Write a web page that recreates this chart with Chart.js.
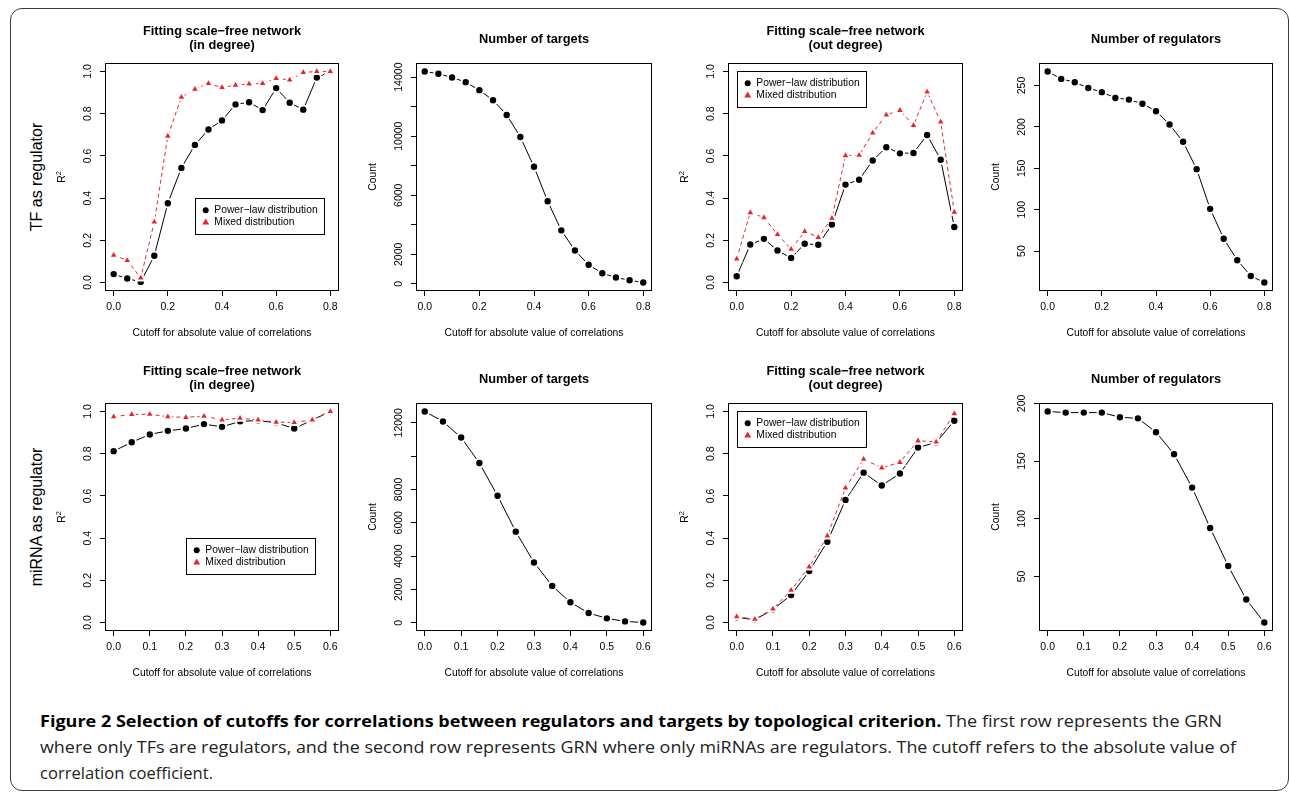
<!DOCTYPE html>
<html><head><meta charset="utf-8">
<script src="https://cdn.jsdelivr.net/npm/chart.js"></script>
<style>
html,body{margin:0;padding:0;background:#fff;width:1290px;height:792px;overflow:hidden;position:relative;font-family:"Liberation Sans",Arial,sans-serif;}
#frame{position:absolute;left:10px;top:8px;width:1279px;height:783px;border:1.5px solid #3a3a3a;border-radius:12px;box-sizing:border-box;}
canvas.p{position:absolute;}
.rowlab{position:absolute;font-family:"Liberation Sans",Arial,sans-serif;font-size:16px;color:#000;transform:translate(-50%,-50%) rotate(-90deg);white-space:nowrap;}
.cap{position:absolute;left:40px;font-family:"Open Sans",sans-serif;font-size:16px;line-height:26px;white-space:nowrap;transform-origin:0 50%;color:#222;}
.cap b{color:#000;font-weight:700;}
</style></head>
<body>
<div id="frame"></div>
<div class="rowlab" style="left:37px;top:177px">TF as regulator</div>
<div class="rowlab" style="left:37px;top:517px">miRNA as regulator</div>
<div class="cap" id="cap1" style="top:708px"><b>Figure 2 Selection of cutoffs for correlations between regulators and targets by topological criterion.</b> The first row represents the GRN</div>
<div class="cap" id="cap2" style="top:734px">where only TFs are regulators, and the second row represents GRN where only miRNAs are regulators. The cutoff refers to the absolute value of</div>
<div class="cap" id="cap3" style="top:760px">correlation coefficient.</div>
<script>
// ---------- data ----------
const cutoffsTF = [0, 0.05, 0.10, 0.15, 0.20, 0.25, 0.30, 0.35, 0.40, 0.45, 0.50, 0.55, 0.60, 0.65, 0.70, 0.75, 0.80];
const cutoffsMiRNA = [0, 0.05, 0.10, 0.15, 0.20, 0.25, 0.30, 0.35, 0.40, 0.45, 0.50, 0.55, 0.60];

const tfInPower  = [0.040, 0.019, 0.003, 0.127, 0.376, 0.543, 0.652, 0.725, 0.768, 0.844, 0.854, 0.817, 0.921, 0.852, 0.819, 0.971, 1.000];
const tfInMixed  = [0.130, 0.105, 0.022, 0.287, 0.694, 0.878, 0.916, 0.943, 0.924, 0.935, 0.941, 0.943, 0.967, 0.960, 0.995, 1.000, 1.000];
const tfTargets  = [14385, 14227, 13978, 13660, 13117, 12437, 11440, 9945, 7929, 5596, 3625, 2265, 1291, 725, 430, 249, 90];
const tfOutPower = [0.030, 0.180, 0.207, 0.152, 0.116, 0.184, 0.179, 0.275, 0.464, 0.487, 0.578, 0.641, 0.612, 0.614, 0.699, 0.582, 0.263];
const tfOutMixed = [0.112, 0.331, 0.308, 0.228, 0.158, 0.242, 0.214, 0.305, 0.601, 0.603, 0.709, 0.794, 0.816, 0.744, 0.903, 0.761, 0.334];
const tfRegulators = [267, 258, 254, 247, 242, 235, 233, 228, 219, 203, 182, 149, 101, 65, 39, 20, 12];

const miInPower  = [0.812, 0.854, 0.891, 0.908, 0.919, 0.940, 0.927, 0.953, 0.957, 0.946, 0.919, 0.959, 1.000];
const miInMixed  = [0.975, 0.986, 0.987, 0.975, 0.972, 0.978, 0.960, 0.968, 0.960, 0.949, 0.948, 0.960, 1.000];
const miTargets  = [12683, 12080, 11116, 9588, 7618, 5467, 3618, 2211, 1226, 583, 261, 80, 10];
const miOutPower = [0.025, 0.013, 0.062, 0.130, 0.244, 0.383, 0.581, 0.710, 0.649, 0.706, 0.829, 0.853, 0.956];
const miOutMixed = [0.028, 0.016, 0.065, 0.153, 0.264, 0.411, 0.638, 0.774, 0.733, 0.759, 0.861, 0.856, 0.989];
const miRegulators = [193, 192, 192, 192, 188, 187, 175, 156, 127, 92, 59, 30, 10];

const xTicksTF = [0, 0.2, 0.4, 0.6, 0.8];
const xTickLabelsTF = ['0.0', '0.2', '0.4', '0.6', '0.8'];
const xTicksMiRNA = [0, 0.1, 0.2, 0.3, 0.4, 0.5, 0.6];
const xTickLabelsMiRNA = ['0.0', '0.1', '0.2', '0.3', '0.4', '0.5', '0.6'];
const r2Ticks = [0, 0.2, 0.4, 0.6, 0.8, 1.0];
const r2TickLabels = ['0.0', '0.2', '0.4', '0.6', '0.8', '1.0'];
const tfTargetTicks = [0, 2000, 4000, 6000, 8000, 10000, 12000, 14000];
const tfTargetTickLabels = ['0', '2000', '', '6000', '', '10000', '', '14000'];
const tfRegTicks = [50, 100, 150, 200, 250];
const tfRegTickLabels = ['50', '100', '150', '200', '250'];
const miTargetTicks = [0, 2000, 4000, 6000, 8000, 10000, 12000];
const miTargetTickLabels = ['0', '2000', '4000', '6000', '8000', '', '12000'];
const miRegTicks = [50, 100, 150, 200];
const miRegTickLabels = ['50', '100', '150', '200'];

const titleIn = ['Fitting scale\u2212free network', '(in degree)'];
const titleOut = ['Fitting scale\u2212free network', '(out degree)'];
const titleTargets = ['Number of targets'];
const titleRegs = ['Number of regulators'];
const xAxisTitle = 'Cutoff for absolute value of correlations';
const legendLabels = ['Power\u2212law distribution', 'Mixed distribution'];

// ---------- styling ----------
const FONT = '"Liberation Sans", Arial, sans-serif';
const RED = 'rgb(230,38,44)';
const BLACK = '#000';

function ext(lo, hi) { const r = hi - lo; return [lo - 0.04 * r, hi + 0.04 * r]; }

const powerStyle = { color: BLACK, dash: [], shape: 'circle', r: 4.2, order: 1 };
const mixedStyle = { color: RED, dash: [4, 3], shape: 'triangle', r: 5.2, order: 0 };

const rowTop = { cy: 15, ch: 330, T: 63, B: 291 };
const rowBot = { cy: 355, ch: 335, T: 403, B: 631 };
const cols = [
  { cx: 48, cw: 310, L: 105, R: 339 },
  { cx: 358, cw: 312, L: 416, R: 652 },
  { cx: 670, cw: 310, L: 728, R: 963 },
  { cx: 980, cw: 300, L: 1039, R: 1273 }
];

const panels = [
  { row: rowTop, col: cols[0], title: titleIn, ylab: 'R2', xs: cutoffsTF, xt: xTicksTF, xl: xTickLabelsTF,
    yr: ext(0, 1), yt: r2Ticks, yl: r2TickLabels,
    series: [{ v: tfInPower, s: powerStyle }, { v: tfInMixed, s: mixedStyle }], legend: [0.3, 0.4] },
  { row: rowTop, col: cols[1], title: titleTargets, ylab: 'Count', xs: cutoffsTF, xt: xTicksTF, xl: xTickLabelsTF,
    yr: ext(Math.min(...tfTargets), Math.max(...tfTargets)), yt: tfTargetTicks, yl: tfTargetTickLabels,
    series: [{ v: tfTargets, s: powerStyle }] },
  { row: rowTop, col: cols[2], title: titleOut, ylab: 'R2', xs: cutoffsTF, xt: xTicksTF, xl: xTickLabelsTF,
    yr: ext(0, 1), yt: r2Ticks, yl: r2TickLabels,
    series: [{ v: tfOutPower, s: powerStyle }, { v: tfOutMixed, s: mixedStyle }], legend: [0, 1] },
  { row: rowTop, col: cols[3], title: titleRegs, ylab: 'Count', xs: cutoffsTF, xt: xTicksTF, xl: xTickLabelsTF,
    yr: ext(Math.min(...tfRegulators), Math.max(...tfRegulators)), yt: tfRegTicks, yl: tfRegTickLabels,
    series: [{ v: tfRegulators, s: powerStyle }] },
  { row: rowBot, col: cols[0], title: titleIn, ylab: 'R2', xs: cutoffsMiRNA, xt: xTicksMiRNA, xl: xTickLabelsMiRNA,
    yr: ext(0, 1), yt: r2Ticks, yl: r2TickLabels,
    series: [{ v: miInPower, s: powerStyle }, { v: miInMixed, s: mixedStyle }], legend: [0.2, 0.4] },
  { row: rowBot, col: cols[1], title: titleTargets, ylab: 'Count', xs: cutoffsMiRNA, xt: xTicksMiRNA, xl: xTickLabelsMiRNA,
    yr: ext(Math.min(...miTargets), Math.max(...miTargets)), yt: miTargetTicks, yl: miTargetTickLabels,
    series: [{ v: miTargets, s: powerStyle }] },
  { row: rowBot, col: cols[2], title: titleOut, ylab: 'R2', xs: cutoffsMiRNA, xt: xTicksMiRNA, xl: xTickLabelsMiRNA,
    yr: ext(0, 1), yt: r2Ticks, yl: r2TickLabels,
    series: [{ v: miOutPower, s: powerStyle }, { v: miOutMixed, s: mixedStyle }], legend: [0, 1] },
  { row: rowBot, col: cols[3], title: titleRegs, ylab: 'Count', xs: cutoffsMiRNA, xt: xTicksMiRNA, xl: xTickLabelsMiRNA,
    yr: ext(Math.min(...miRegulators), Math.max(...miRegulators)), yt: miRegTicks, yl: miRegTickLabels,
    series: [{ v: miRegulators, s: powerStyle }] }
];

function rPlugin(p) {
  return {
    id: 'rpanel',
    afterDraw(chart) {
      const ctx = chart.ctx, a = chart.chartArea, xs = chart.scales.x, ys = chart.scales.y;
      ctx.save();
      // box
      ctx.strokeStyle = '#000'; ctx.lineWidth = 1;
      ctx.strokeRect(Math.round(a.left) + 0.5, Math.round(a.top) + 0.5, Math.round(a.right - a.left) - 1, Math.round(a.bottom - a.top) - 1);
      ctx.fillStyle = '#000';
      // title
      const cx = (a.left + a.right) / 2;
      ctx.font = 'bold 12.8px ' + FONT; ctx.textAlign = 'center'; ctx.textBaseline = 'middle';
      if (p.title.length === 2) { ctx.fillText(p.title[0], cx, a.top - 32); ctx.fillText(p.title[1], cx, a.top - 18); }
      else ctx.fillText(p.title[0], cx, a.top - 24);
      // x axis title
      ctx.font = '10.3px ' + FONT;
      ctx.fillText(xAxisTitle, cx, a.bottom + 42);
      // y tick labels (rotated, R style)
      ctx.font = '10.5px ' + FONT;
      p.yt.forEach((v, i) => {
        const lab = p.yl[i]; if (!lab) return;
        const py = ys.getPixelForValue(v);
        ctx.save(); ctx.translate(a.left - 17, py); ctx.rotate(-Math.PI / 2);
        ctx.textAlign = 'center'; ctx.textBaseline = 'middle'; ctx.fillText(lab, 0, 0); ctx.restore();
      });
      // y axis title
      const cy = (a.top + a.bottom) / 2;
      ctx.save(); ctx.translate(a.left - 42.5, cy); ctx.rotate(-Math.PI / 2); ctx.textBaseline = 'middle'; ctx.textAlign = 'left';
      if (p.ylab === 'R2') {
        ctx.font = '10.3px ' + FONT; const wR = ctx.measureText('R').width;
        ctx.font = '7.5px ' + FONT; const w2 = ctx.measureText('2').width;
        const s = -(wR + w2) / 2;
        ctx.font = '10.3px ' + FONT; ctx.fillText('R', s, 0);
        ctx.font = '7.5px ' + FONT; ctx.fillText('2', s + wR, -4);
      } else {
        ctx.font = '10.3px ' + FONT; ctx.textAlign = 'center'; ctx.fillText(p.ylab, 0, 0);
      }
      ctx.restore();
      // legend
      if (p.legend) {
        const lx = Math.round(xs.getPixelForValue(p.legend[0])), ly = Math.round(ys.getPixelForValue(p.legend[1]));
        ctx.strokeStyle = '#000'; ctx.lineWidth = 1;
        ctx.strokeRect(lx + 0.5, ly + 0.5, 129, 36);
        ctx.font = '10.3px ' + FONT; ctx.textAlign = 'left'; ctx.textBaseline = 'middle';
        // entry 1 symbol: circle
        ctx.fillStyle = BLACK; ctx.beginPath(); ctx.arc(lx + 10.7, ly + 12.3, 3, 0, Math.PI * 2); ctx.fill();
        ctx.fillText(legendLabels[0], lx + 19.3, ly + 12.3);
        // entry 2 symbol: triangle
        ctx.fillStyle = RED; ctx.beginPath();
        const tx = lx + 10.7, ty = ly + 24.6, r = 4;
        ctx.moveTo(tx, ty - r); ctx.lineTo(tx + r * 0.866, ty + r * 0.5); ctx.lineTo(tx - r * 0.866, ty + r * 0.5); ctx.closePath(); ctx.fill();
        ctx.fillStyle = '#000';
        ctx.fillText(legendLabels[1], lx + 19.3, ly + 24.6);
      }
      ctx.restore();
    }
  };
}

panels.forEach((p) => {
  const { cy, ch, T, B } = p.row; const { cx, cw, L, R } = p.col;
  const cv = document.createElement('canvas');
  cv.className = 'p'; cv.width = cw; cv.height = ch;
  cv.style.left = cx + 'px'; cv.style.top = cy + 'px'; cv.style.width = cw + 'px'; cv.style.height = ch + 'px';
  document.body.appendChild(cv);
  const xr = ext(p.xs[0], p.xs[p.xs.length - 1]);
  new Chart(cv, {
    type: 'line',
    data: {
      datasets: p.series.map(sr => ({
        data: p.xs.map((x, i) => ({ x: x, y: sr.v[i] })),
        borderColor: sr.s.color, backgroundColor: sr.s.color, borderWidth: 1, borderDash: sr.s.dash,
        pointStyle: sr.s.shape, pointRadius: sr.s.r, pointHoverRadius: sr.s.r,
        pointBackgroundColor: sr.s.color, pointBorderColor: '#fff', pointBorderWidth: 2,
        tension: 0, fill: false, order: sr.s.order
      }))
    },
    options: {
      responsive: false, animation: false, devicePixelRatio: 1, events: [],
      layout: { padding: { left: 0, top: T - cy, right: cx + cw - R, bottom: 0 } },
      plugins: { legend: { display: false }, tooltip: { enabled: false }, title: { display: false } },
      scales: {
        x: {
          type: 'linear', min: xr[0], max: xr[1],
          afterBuildTicks: s => { s.ticks = p.xt.map(v => ({ value: v })); },
          afterFit: s => { s.height = cy + ch - B; },
          ticks: { autoSkip: false, maxRotation: 0, minRotation: 0, padding: 5, color: '#000',
                   font: { family: FONT, size: 10.5 }, callback: (v, i) => p.xl[i] },
          grid: { drawOnChartArea: false, drawTicks: true, tickLength: 5, color: '#000', lineWidth: 1 },
          border: { display: false }
        },
        y: {
          type: 'linear', min: p.yr[0], max: p.yr[1],
          afterBuildTicks: s => { s.ticks = p.yt.map(v => ({ value: v })); },
          afterFit: s => { s.width = L - cx; },
          ticks: { display: false },
          grid: { drawOnChartArea: false, drawTicks: true, tickLength: 5, color: '#000', lineWidth: 1 },
          border: { display: false }
        }
      }
    },
    plugins: [rPlugin(p)]
  });
});

// caption line fitting
[['cap1', 1182], ['cap2', 1196], ['cap3', 173]].forEach(([id, w]) => {
  const el = document.getElementById(id);
  const nat = el.getBoundingClientRect().width;
  el.style.transform = 'scaleX(' + (w / nat) + ')';
});
</script>
</body></html>
